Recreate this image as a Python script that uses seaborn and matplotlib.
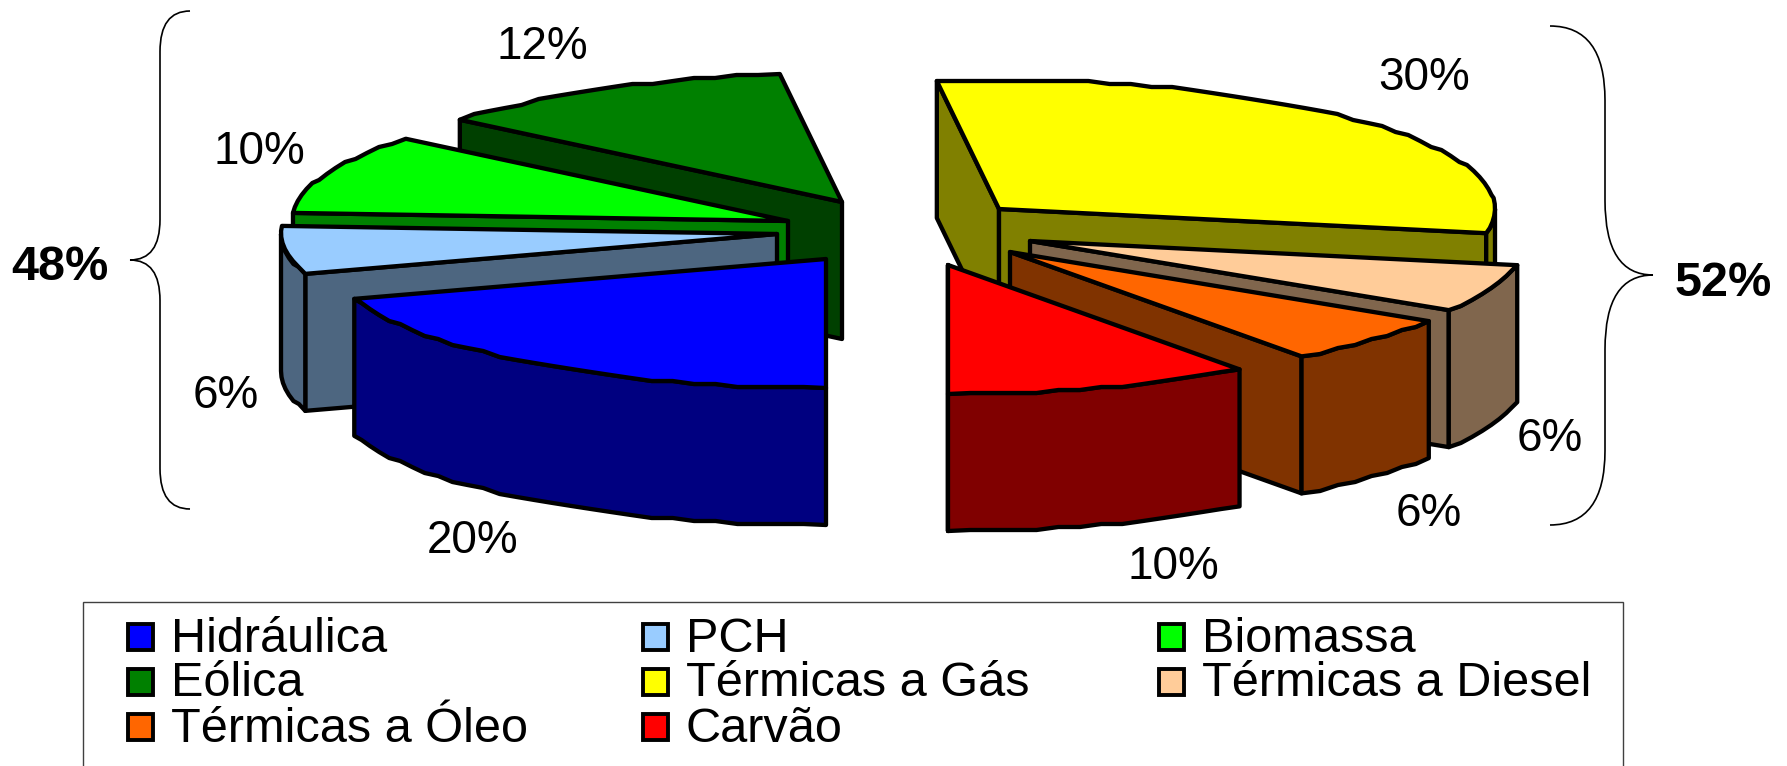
import numpy as np
import matplotlib
matplotlib.use('Agg')
import matplotlib.pyplot as plt
import seaborn as sns
from matplotlib.patches import Polygon, PathPatch, Rectangle
from matplotlib.path import Path

sources = ['Hidráulica', 'PCH', 'Biomassa', 'Eólica', 'Térmicas a Gás',
           'Térmicas a Diesel', 'Térmicas a Óleo', 'Carvão']
shares = [20, 6, 10, 12, 30, 6, 6, 10]
group_left = '48%'
group_right = '52%'

colors = ['#0000FF', '#99CCFF', '#00FF00', '#008000', '#FFFF00',
          '#FFCC99', '#FF6600', '#FF0000']

# where each exploded slice has its tip, pixels
tips = [(826, 259), (777, 234), (788, 221), (842, 202), (999, 209),
        (1030, 241), (1010, 252), (948, 265)]
# where each percent goes
label_pos = [(473, 541), (226, 396), (259, 152), (542, 47), (1424, 78),
             (1550, 439), (1429, 514), (1173, 567)]
# back slices first
draw_order = [3, 2, 1, 0, 4, 5, 6, 7]

RX, RY, DEPTH = 496, 129, 137
LW = 3.1

sns.set_theme(style='white')
plt.rcParams['font.family'] = ['Liberation Sans', 'DejaVu Sans']

fig = plt.figure(figsize=(17.87, 7.66), dpi=100)
ax = fig.add_axes([0, 0, 1, 1])
ax.set_xlim(0, 1787)
ax.set_ylim(766, 0)
ax.axis('off')


def direction(t):
    # angle clockwise from the bottom of the pie
    r = np.radians(t)
    return np.array([-RX * np.sin(r), RY * np.cos(r)])


def rim(tip, t0, t1):
    # the old pie has bumpy arcs so snap them a bit
    n = max(int(abs(t1 - t0) / 2.5), 2)
    pts = [np.array(tip) + direction(t) for t in np.linspace(t0, t1, n + 1)]
    out = [pts[0]]
    for p in pts[1:-1]:
        out.append(np.array([p[0], np.round(p[1] / 3) * 3]))
    out.append(pts[-1])
    return np.array(out)


def shade(c):
    return tuple(v * 0.5 for v in matplotlib.colors.to_rgb(c))


def poly(pts, color):
    ax.add_patch(Polygon(pts, closed=True, facecolor=color, edgecolor='black',
                         linewidth=LW, joinstyle='round'))


def radial_wall(tip, t, tmid, color):
    d = direction(t)
    m = direction(tmid)
    cross = d[0] * m[1] - d[1] * m[0]
    if (d[0] > 0 and cross < 0) or (d[0] < 0 and cross > 0):
        a = np.array(tip)
        b = a + d
        down = np.array([0, DEPTH])
        poly([a, b, b + down, a + down], color)


edges = np.cumsum([0] + shares) * 3.6

for i in draw_order:
    t0, t1 = edges[i], edges[i + 1]
    tip = tips[i]
    dark = shade(colors[i])
    radial_wall(tip, t0, (t0 + t1) / 2, dark)
    radial_wall(tip, t1, (t0 + t1) / 2, dark)
    # outer wall, only the part that faces us
    for a, b in [(0, 90), (270, 360)]:
        lo, hi = max(t0, a), min(t1, b)
        if hi > lo:
            top = rim(tip, lo, hi)
            poly(np.vstack([top, top[::-1] + [0, DEPTH]]), dark)
    poly(np.vstack([[tip], rim(tip, t0, t1)]), colors[i])

for s, (x, y) in zip(shares, label_pos):
    ax.text(x, y, f'{s}%', fontsize=33, ha='center', va='center', color='black')

ax.text(60, 267, group_left, fontsize=35, fontweight='bold', ha='center', va='center', color='black')
ax.text(1723, 283, group_right, fontsize=35, fontweight='bold', ha='center', va='center', color='black')


def brace(x_tip, x_spine, x_end, y0, ymid, y1):
    r = abs(x_end - x_spine) * 1.35
    codes = [Path.MOVETO, Path.CURVE3, Path.CURVE3, Path.LINETO, Path.CURVE3, Path.CURVE3,
             Path.CURVE3, Path.CURVE3, Path.LINETO, Path.CURVE3, Path.CURVE3]
    verts = [(x_end, y0), (x_spine, y0), (x_spine, y0 + r),
             (x_spine, ymid - r), (x_spine, ymid), (x_tip, ymid),
             (x_spine, ymid), (x_spine, ymid + r),
             (x_spine, y1 - r), (x_spine, y1), (x_end, y1)]
    ax.add_patch(PathPatch(Path(verts, codes), fill=False, edgecolor='black', linewidth=1.2))


brace(130, 160, 190, 11, 260, 509)
brace(1653, 1605, 1550, 26, 275, 525)

# legend box runs off the bottom of the picture
ax.add_patch(Rectangle((83, 602), 1540, 200, facecolor='white', edgecolor='#404040', linewidth=1))

col_x = [128, 643, 1159]
row_y = [637, 682, 727]
for k, name in enumerate(sources):
    row, col = k // 3, k % 3
    x, y = col_x[col], row_y[row]
    ax.add_patch(Rectangle((x, y - 13), 25, 26, facecolor=colors[k], edgecolor='black', linewidth=2.8))
    ax.text(x + 43, y + 2, name, fontsize=35, ha='left', va='center', color='black')

fig.savefig('out.png', dpi=100)
